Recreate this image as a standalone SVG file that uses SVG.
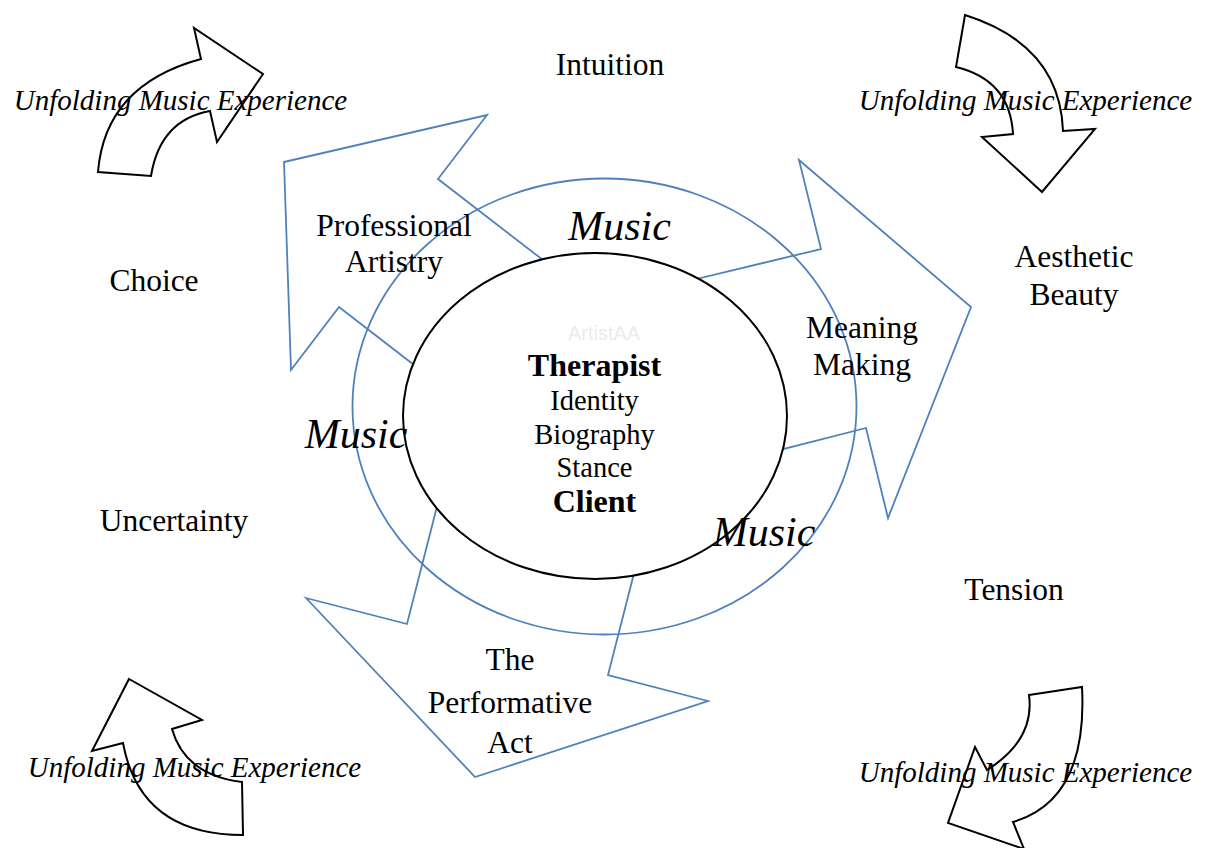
<svg xmlns="http://www.w3.org/2000/svg" width="1205" height="848" viewBox="0 0 1205 848">
<style>
.blue{fill:none;stroke:#4f81bd;stroke-width:1.8;stroke-linejoin:miter}
.curve{fill:#ffffff;stroke:#000;stroke-width:2;stroke-linejoin:miter}
.t{font-family:"Liberation Serif","Times New Roman",serif;fill:#000;text-anchor:middle}
.lbl{font-size:31.5px}
.ctr{font-size:28.5px}
.bold{font-size:32px;font-weight:bold}
.ufe{font-size:29px;font-style:italic}
.music{font-size:42px;font-style:italic}
.wm{font-family:"Liberation Sans",Arial,sans-serif;font-size:20px;fill:#ececec;text-anchor:middle}
</style>
<rect width="1205" height="848" fill="#ffffff"/>
<g id="connectors">
  <path class="curve" d="M 98,172 Q 105,85 201,59 L 194,28 L 263,74 L 217,142 L 210,111 Q 160,120 151,176 Z"/>
  <path class="curve" d="M 965,15 Q 1060,45 1063,131 L 1095,129 L 1042,192 L 982,137 L 1013,134 Q 1010,80 956,67 Z"/>
  <path class="curve" d="M 129,679 L 202,720 L 172,729 Q 185,775 242,782 L 243,835 Q 140,835 123,743 L 92,751 Z"/>
  <path class="curve" d="M 1029,695 L 1082,687 Q 1088,800 1013,822 L 1024,849 L 948,823 L 975,747 L 987,770 Q 1035,740 1029,695 Z"/>
</g>
<g id="arrow-professional-artistry">
  <polygon class="blue" points="284,162 487,115 438,179 565,277 440,385 339,307 291,370"/>
</g>
<g id="arrow-meaning-making">
  <polygon class="blue" points="799,160 971,307 888,518 866,428 760,455 680,283 821,249"/>
</g>
<g id="arrow-performative-act">
  <polygon class="blue" points="306,598 407,624 445,475 642,542 608,675 708,701 475,777"/>
</g>
<g id="music-ring">
  <ellipse class="blue" cx="604.5" cy="406.5" rx="252" ry="228"/>
</g>
<g id="core">
  <ellipse cx="595" cy="416" rx="192" ry="163" fill="#ffffff" stroke="#000" stroke-width="2"/>
  <text class="wm" x="604" y="340">ArtistAA</text>
  <text class="t bold" x="594.5" y="376">Therapist</text>
  <text class="t ctr" x="594.5" y="410">Identity</text>
  <text class="t ctr" x="594.5" y="444">Biography</text>
  <text class="t ctr" x="594.5" y="477">Stance</text>
  <text class="t bold" x="594.5" y="512">Client</text>
</g>
<g id="labels">
  <text class="t lbl" x="394" y="236">Professional</text>
  <text class="t lbl" x="394" y="272">Artistry</text>
  <text class="t lbl" x="862" y="338">Meaning</text>
  <text class="t lbl" x="862" y="375">Making</text>
  <text class="t lbl" x="510" y="670">The</text>
  <text class="t lbl" x="510" y="713">Performative</text>
  <text class="t lbl" x="510" y="753">Act</text>
  <text class="t music" x="619.5" y="240">Music</text>
  <text class="t music" x="356" y="448">Music</text>
  <text class="t music" x="764" y="546">Music</text>
</g>
<g id="qualities">
  <text class="t lbl" x="610" y="75">Intuition</text>
  <text class="t lbl" x="154" y="291">Choice</text>
  <text class="t lbl" x="174" y="531">Uncertainty</text>
  <text class="t lbl" x="1014" y="600">Tension</text>
  <text class="t lbl" x="1074" y="267">Aesthetic</text>
  <text class="t lbl" x="1074" y="305">Beauty</text>
</g>
<g id="unfolding">
  <text class="t ufe" x="180.5" y="110">Unfolding Music Experience</text>
  <text class="t ufe" x="1025.5" y="110">Unfolding Music Experience</text>
  <text class="t ufe" x="194.5" y="777">Unfolding Music Experience</text>
  <text class="t ufe" x="1025.5" y="782">Unfolding Music Experience</text>
</g>
</svg>
